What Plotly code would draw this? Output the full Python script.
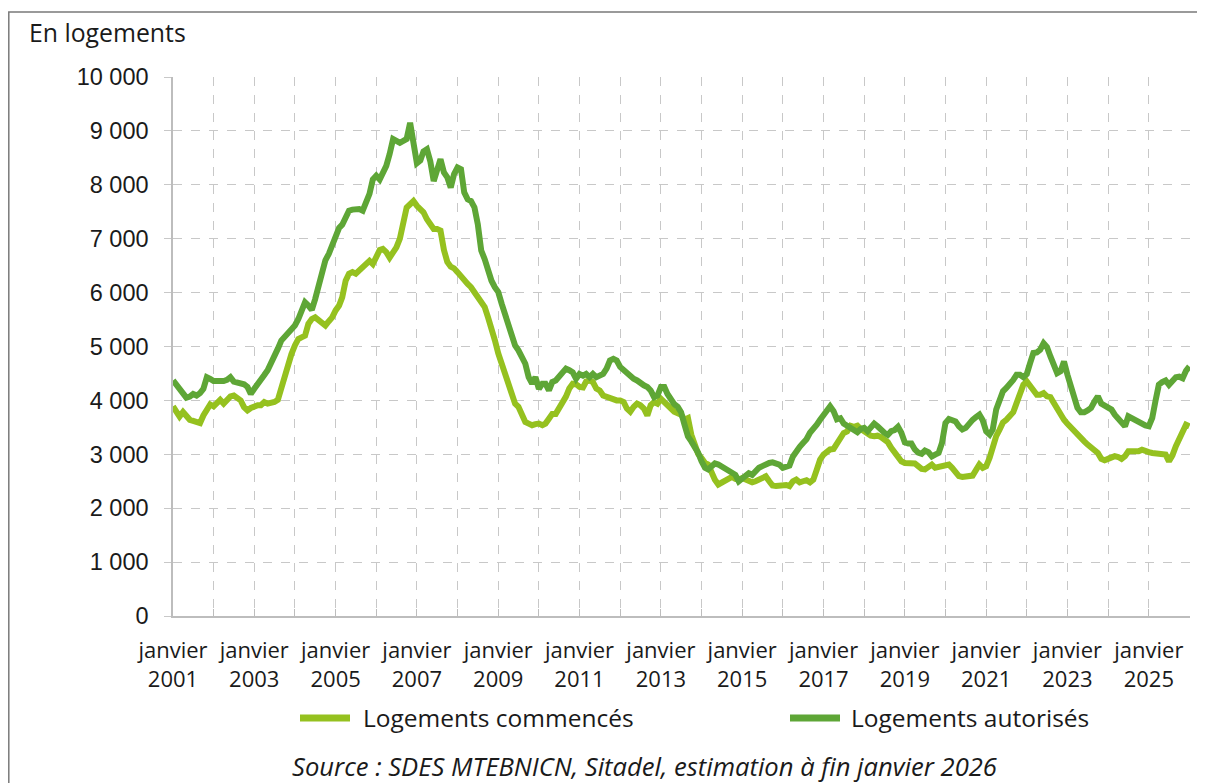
import pandas as pd
import plotly.graph_objects as go

# Monthly series, January 2001 -> January 2026 (301 months)
start_month = "2001-01-01"

commences = [
    3890, 3785, 3700, 3785, 3690, 3640, 3620, 3600, 3580, 3720, 3850, 3925,
    3890, 3940, 4010, 3940, 4030, 4075, 4090, 4060, 4000, 3875, 3815, 3860,
    3890, 3910, 3910, 3970, 3940, 3950, 3970, 4010, 4250, 4430, 4680, 4860,
    5020, 5140, 5170, 5200, 5420, 5510, 5540, 5480, 5420, 5390, 5470, 5540,
    5670, 5760, 5910, 6220, 6350, 6380, 6350, 6410, 6460, 6530, 6590, 6530,
    6690, 6790, 6810, 6750, 6650, 6750, 6840, 7000, 7330, 7580, 7640, 7700,
    7610, 7550, 7490, 7360, 7270, 7180, 7180, 7150, 6790, 6570, 6480, 6450,
    6380, 6290, 6220, 6160, 6100, 6010, 5880, 5790, 5730, 5540, 5360, 5120,
    4870, 4680, 4490, 4310, 4070, 3940, 3880, 3700, 3600, 3570, 3540, 3560,
    3570, 3540, 3570, 3660, 3750, 3750, 3850, 3940, 4070, 4220, 4310, 4300,
    4250, 4240, 4350, 4370, 4340, 4220, 4185, 4090, 4060, 4030, 4010, 4000,
    4000, 3970, 3850, 3790, 3880, 3940, 3910, 3850, 3720, 3910, 3970, 3940,
    4030, 3970, 3880, 3850, 3790, 3760, 3735, 3640, 3670, 3365, 3150, 3010,
    2930, 2840, 2810, 2655, 2530, 2440, 2470, 2520, 2560, 2580, 2545, 2530,
    2560, 2530, 2500, 2480, 2500, 2530, 2560, 2590, 2500, 2420, 2410, 2420,
    2440, 2430, 2410, 2500, 2530, 2480, 2500, 2520, 2480, 2530, 2715, 2900,
    2995, 3055, 3090, 3100, 3210, 3335, 3395, 3425, 3530, 3510, 3530, 3470,
    3425, 3395, 3345, 3335, 3345, 3320, 3285, 3225, 3120, 3025, 2965, 2870,
    2840, 2840, 2840, 2830, 2780, 2730, 2720, 2750, 2810, 2750, 2765, 2780,
    2800, 2810, 2750, 2655, 2595, 2580, 2590, 2595, 2605, 2705, 2810, 2750,
    2780, 2935, 3150, 3335, 3455, 3590, 3640, 3715, 3780, 3950, 4125, 4290,
    4350, 4270, 4185, 4105, 4105, 4135, 4075, 4060, 3950, 3830, 3735, 3640,
    3565, 3490, 3425, 3365, 3300, 3240, 3180, 3135, 3100, 3025, 2915, 2890,
    2915, 2935, 2965, 2950, 2915, 2965, 3055, 3055, 3055, 3055, 3085, 3055,
    3040, 3025, 3015, 3025, 3015, 2995, 2870, 2980, 3150, 3275, 3425, 3550,
    3520,
]

autorises = [
    4370, 4280, 4200, 4150, 4050, 4070, 4120, 4090, 4135, 4215, 4430, 4400,
    4360, 4360, 4350, 4360, 4380, 4430, 4350, 4340, 4320, 4300, 4250, 4120,
    4215, 4290, 4380, 4470, 4560, 4680, 4830, 4960, 5110, 5170, 5240, 5300,
    5390, 5510, 5670, 5820, 5760, 5680, 5880, 6160, 6410, 6600, 6720, 6880,
    7090, 7200, 7260, 7400, 7520, 7540, 7550, 7550, 7520, 7700, 7830, 8100,
    8170, 8100, 8230, 8350, 8570, 8850, 8815, 8780, 8815, 8850, 9150, 8700,
    8400, 8450, 8620, 8660, 8440, 8070, 8320, 8475, 8230, 8140, 7950, 8200,
    8320, 8290, 7860, 7730, 7700, 7580, 7270, 6780, 6620, 6410, 6220, 6100,
    6010, 5790, 5610, 5420, 5240, 5020, 4930, 4830, 4680, 4430, 4310, 4430,
    4215, 4310, 4310, 4185, 4340, 4370, 4430, 4490, 4590, 4560, 4520, 4400,
    4490, 4460, 4490, 4430, 4490, 4430, 4460, 4490, 4590, 4740, 4770, 4740,
    4620, 4560, 4490, 4430, 4400, 4370, 4310, 4280, 4250, 4185, 4060, 4090,
    4250, 4250, 4120, 4000, 3930, 3880, 3780, 3550, 3330, 3240, 3150, 3030,
    2870, 2750, 2720, 2780, 2830, 2810, 2770, 2730, 2700, 2670, 2620, 2500,
    2560, 2620, 2650, 2620, 2690, 2750, 2780, 2820, 2840, 2850, 2830, 2810,
    2750, 2780, 2790, 2960, 3060, 3140, 3210, 3280, 3400, 3460, 3550, 3640,
    3740, 3830, 3890, 3800, 3650, 3670, 3570, 3530, 3490, 3450, 3410, 3470,
    3490, 3430, 3490, 3570, 3520, 3450, 3400, 3360, 3430, 3450, 3510, 3400,
    3220, 3200, 3200, 3090, 3030, 3010, 3070, 3040, 2960, 2995, 3025, 3210,
    3580, 3655, 3640, 3610, 3520, 3460, 3490, 3580, 3640, 3690, 3735, 3630,
    3425, 3365, 3460, 3830, 4040, 4170, 4230, 4290, 4380, 4475, 4475, 4430,
    4490, 4700, 4880, 4890, 4940, 5060, 4990, 4815, 4630, 4505, 4540, 4720,
    4475, 4260, 4010, 3860, 3780, 3780, 3815, 3860, 3980, 4075, 3940, 3900,
    3890, 3830, 3735, 3655, 3610, 3520, 3705, 3670, 3620, 3600, 3570, 3535,
    3520, 3675, 3980, 4290, 4340, 4370, 4290, 4380, 4430, 4440, 4410, 4550,
    4630,
]

tick_years = [2001, 2003, 2005, 2007, 2009, 2011, 2013, 2015, 2017, 2019, 2021, 2023, 2025]
tick_labels = [f"janvier<br>{y}" for y in tick_years]
tick_vals = [f"{y}-01-01" for y in tick_years]

series_names = ["Logements commencés", "Logements autorisés"]
colors = ["#95C11F", "#5EA636"]

dates = pd.date_range(start_month, periods=len(commences), freq="MS")

# The page body has an 8px default margin; the figure is sized to fit the window.
FIG_W, FIG_H = 1197, 775
PL, PR, PT, PB = 173, 1190, 77, 616   # plot area in page pixels
PW, PH = PR - PL, PB - PT


def px(xp):
    return (xp - PL) / PW


def py(yp):
    return (PB - yp) / PH


fig = go.Figure()
for name, vals, col in zip(series_names, [commences, autorises], colors):
    fig.add_trace(go.Scatter(
        x=dates, y=vals, mode="lines", name=name,
        line=dict(color=col, width=6),
    ))

grid_col = "#c8c8c8"
axis_col = "#bdbdbd"
txt = "#1a1a1a"

fig.update_layout(
    width=FIG_W, height=FIG_H,
    margin=dict(l=PL - 8, r=FIG_W - (PR - 8), t=PT - 8, b=FIG_H - (PB - 8)),
    paper_bgcolor="white", plot_bgcolor="white",
    separators=", ",
    showlegend=False,
    xaxis=dict(
        type="date",
        range=["2001-01-01", "2026-01-06"],
        tickmode="array", tickvals=tick_vals, ticktext=tick_labels,
        tickfont=dict(family="Open Sans", size=22, color=txt),
        showgrid=True, gridcolor=grid_col, griddash="dash", gridwidth=1,
        showline=True, linecolor=axis_col, linewidth=1.5,
        ticks="inside", ticklen=7, tickcolor=axis_col,
        ticklabelstandoff=14,
        minor=dict(tick0="2001-01-01", dtick="M12", showgrid=True,
                   gridcolor=grid_col, griddash="dash", gridwidth=1,
                   ticks="inside", ticklen=7, tickcolor=axis_col),
        zeroline=False,
    ),
    yaxis=dict(
        range=[0, 10000], dtick=1000, tick0=0,
        tickformat=",d",
        tickfont=dict(family="Liberation Sans", size=23.5, color=txt),
        showgrid=True, gridcolor=grid_col, griddash="dash", gridwidth=1,
        showline=True, linecolor=axis_col, linewidth=1.5,
        ticks="outside", ticklen=7, tickcolor=grid_col,
        ticklabelstandoff=11,
        zeroline=False,
    ),
)

# Legend drawn as line samples + labels
legend_sample_x = [(300, 350), (790, 840)]
legend_text_x = [361, 849]
legend_y = 718
for name, col, (x0, x1), tx in zip(series_names, colors, legend_sample_x, legend_text_x):
    fig.add_shape(
        type="line", xref="paper", yref="paper",
        x0=px(x0), x1=px(x1), y0=py(legend_y), y1=py(legend_y),
        line=dict(color=col, width=7),
    )
    fig.add_annotation(
        text=name, xref="paper", yref="paper",
        x=px(tx), y=py(legend_y - 1), xanchor="left", yanchor="middle",
        showarrow=False, font=dict(family="Open Sans", size=24.5, color=txt),
    )

fig.add_annotation(
    text="En logements", xref="paper", yref="paper",
    x=px(27), y=py(32), xanchor="left", yanchor="middle",
    showarrow=False, font=dict(family="Open Sans", size=24.8, color=txt),
)
fig.add_annotation(
    text="<i>Source : SDES MTEBNICN, Sitadel, estimation à fin janvier 2026</i>",
    xref="paper", yref="paper",
    x=px(644), y=py(767), xanchor="center", yanchor="middle",
    showarrow=False, font=dict(family="Open Sans", size=25.6, color=txt),
)
fig.add_shape(
    type="rect", xref="paper", yref="paper",
    x0=px(8.8), x1=px(1203),
    y0=py(800), y1=py(12),
    line=dict(color="#7a7a7a", width=1.5), fillcolor="rgba(0,0,0,0)", layer="below",
)

fig.write_html("out.html")
